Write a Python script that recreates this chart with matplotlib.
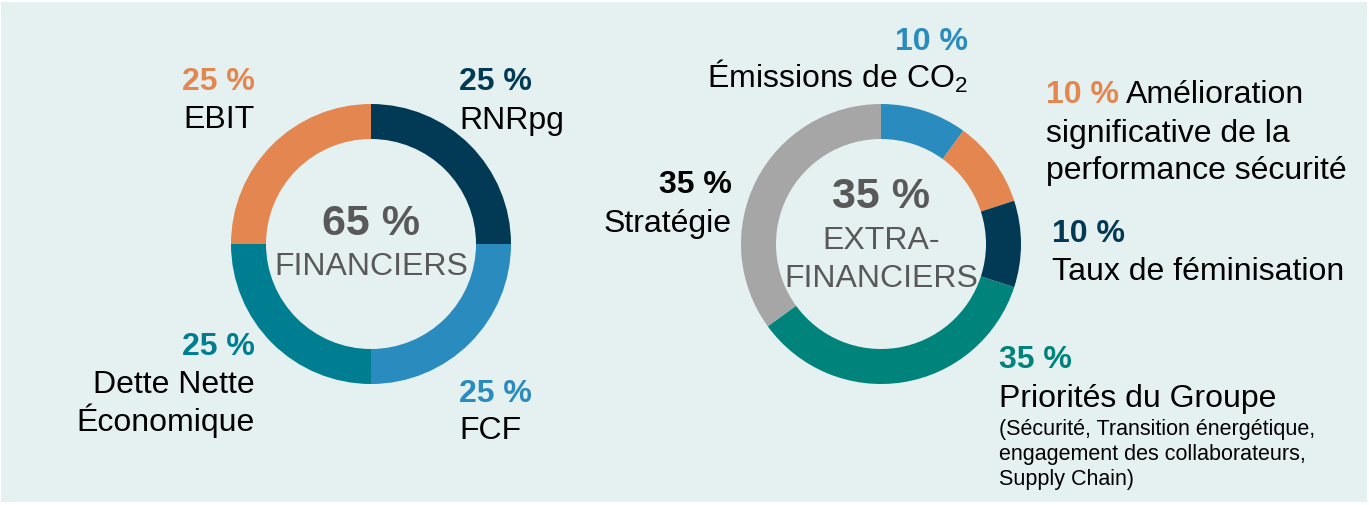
import matplotlib.pyplot as plt
from matplotlib.patches import Rectangle

plt.rcParams['font.family'] = ['Liberation Sans', 'DejaVu Sans']
plt.rcParams['mathtext.fontset'] = 'custom'
plt.rcParams['mathtext.rm'] = 'Liberation Sans'

W, H = 1369, 506

# left donut: financial criteria (clockwise from 12 o'clock)
fin_labels = ['RNRpg', 'FCF', 'Dette Nette\nÉconomique', 'EBIT']
fin_values = [25, 25, 25, 25]
fin_colors = ['#023a55', '#2a8bbe', '#007e91', '#e3864f']

# right donut: extra-financial criteria
ext_labels = ['Émissions de CO$_2$', 'Amélioration significative de la performance sécurité',
              'Taux de féminisation', 'Priorités du Groupe', 'Stratégie']
ext_values = [10, 10, 10, 35, 35]
ext_colors = ['#2a8bbe', '#e3864f', '#023a55', '#00837b', '#a6a6a6']

fin_total = 65
ext_total = 35

fig = plt.figure(figsize=(W / 100, H / 100), dpi=100)
fig.patch.set_facecolor('white')
ax = fig.add_axes([0, 0, 1, 1])

FS = 23


def Y(y):
    # image pixel row -> plot coordinate
    return H - y


def donut(values, colors, cx, cy):
    ax.pie(values, colors=colors, center=(cx, Y(cy)), radius=140, startangle=90,
           counterclock=False, wedgeprops=dict(width=35, linewidth=0))


def txt(x, y, s, size=FS, color='black', ha='left', bold=False):
    ax.text(x, Y(y), s, fontsize=size, color=color, ha=ha, va='baseline',
            fontweight='bold' if bold else 'normal')


ax.add_patch(Rectangle((1, 3), W - 3, H - 6, facecolor='#e5f1f1', edgecolor='none', zorder=0))

donut(fin_values, fin_colors, 371, 245)
donut(ext_values, ext_colors, 881, 245)

grey = '#595959'
# left donut labels
txt(371, 235, f'{fin_total} %', size=31, color=grey, ha='center', bold=True)
txt(371, 275, 'FINANCIERS', size=23, color=grey, ha='center')

txt(459, 90, f'{fin_values[0]} %', color=fin_colors[0], bold=True)
txt(459, 129, fin_labels[0])
txt(459, 402, f'{fin_values[1]} %', color=fin_colors[1], bold=True)
txt(459, 439, fin_labels[1])
txt(255, 355, f'{fin_values[2]} %', color=fin_colors[2], ha='right', bold=True)
txt(255, 393, fin_labels[2].split('\n')[0], ha='right')
txt(255, 431, fin_labels[2].split('\n')[1], ha='right')
txt(255, 90, f'{fin_values[3]} %', color=fin_colors[3], ha='right', bold=True)
txt(255, 128, fin_labels[3], ha='right')

# right donut labels
txt(881, 208, f'{ext_total} %', size=31, color=grey, ha='center', bold=True)
txt(881, 249, 'EXTRA-', size=23, color=grey, ha='center')
txt(881, 287, 'FINANCIERS', size=23, color=grey, ha='center')

txt(968, 50, f'{ext_values[0]} %', color=ext_colors[0], ha='right', bold=True)
txt(968, 88, ext_labels[0], ha='right')

txt(1046, 103, f'{ext_values[1]} %', color=ext_colors[1], bold=True)
txt(1126, 103, 'Amélioration')
txt(1046, 142, 'significative de la')
txt(1046, 179, 'performance sécurité')

txt(1052, 242, f'{ext_values[2]} %', color=ext_colors[2], bold=True)
txt(1052, 280, ext_labels[2])

txt(999, 368, f'{ext_values[3]} %', color=ext_colors[3], bold=True)
txt(999, 407, ext_labels[3])
txt(999, 435, '(Sécurité, Transition énergétique,', size=15.5)
txt(999, 460, 'engagement des collaborateurs,', size=15.5)
txt(999, 485, 'Supply Chain)', size=15.5)

txt(732, 193, f'{ext_values[4]} %', ha='right', bold=True)
txt(732, 232, ext_labels[4], ha='right')

ax.set_xlim(0, W)
ax.set_ylim(0, H)
ax.set_aspect('auto')
ax.axis('off')

fig.savefig('out.png', dpi=100, facecolor=fig.get_facecolor())
